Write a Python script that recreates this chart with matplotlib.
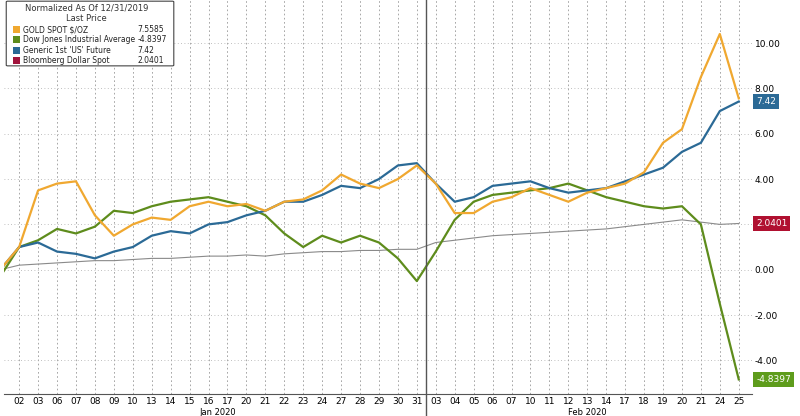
import matplotlib.pyplot as plt
import numpy as np
from matplotlib.patches import FancyBboxPatch, Rectangle

# === DATA (normalized as of 12/31/2019) ===
days = ['02', '03', '06', '07', '08', '09', '10', '13', '14', '15', '16', '17', '20', '21', '22',
        '23', '24', '27', '28', '29', '30', '31',
        '03', '04', '05', '06', '07', '10', '11', '12', '13', '14', '17', '18', '19', '20', '21', '24', '25']
gold = [0.0, 1.0, 3.5, 3.8, 3.9, 2.4, 1.5, 2.0, 2.3, 2.2, 2.8, 3.0, 2.8, 2.9, 2.6, 3.0, 3.1, 3.5, 4.2,
        3.8, 3.6, 4.0, 4.6, 3.8, 2.5, 2.5, 3.0, 3.2, 3.6, 3.3, 3.0, 3.4, 3.6, 3.8, 4.3, 5.6, 6.2, 8.5, 10.4, 7.5585]
dow = [-0.3, 1.0, 1.3, 1.8, 1.6, 1.9, 2.6, 2.5, 2.8, 3.0, 3.1, 3.2, 3.0, 2.8, 2.4, 1.6, 1.0, 1.5, 1.2,
       1.5, 1.2, 0.5, -0.5, 0.8, 2.2, 3.0, 3.3, 3.4, 3.5, 3.6, 3.8, 3.5, 3.2, 3.0, 2.8, 2.7, 2.8, 2.0, -1.5, -4.8397]
us_fut = [0.0, 1.0, 1.2, 0.8, 0.7, 0.5, 0.8, 1.0, 1.5, 1.7, 1.6, 2.0, 2.1, 2.4, 2.6, 3.0, 3.0, 3.3, 3.7,
          3.6, 4.0, 4.6, 4.7, 3.8, 3.0, 3.2, 3.7, 3.8, 3.9, 3.6, 3.4, 3.5, 3.6, 3.9, 4.2, 4.5, 5.2, 5.6, 7.0, 7.42]
dollar = [0.0, 0.2, 0.25, 0.3, 0.35, 0.4, 0.4, 0.45, 0.5, 0.5, 0.55, 0.6, 0.6, 0.65, 0.6, 0.7, 0.75, 0.8, 0.8,
          0.85, 0.85, 0.9, 0.9, 1.2, 1.3, 1.4, 1.5, 1.55, 1.6, 1.65, 1.7, 1.75, 1.8, 1.9, 2.0, 2.1, 2.2, 2.1, 2.0, 2.0401]
yticks = [-4, -2, 0, 4, 6, 8, 10]

x = np.arange(-1, len(days))

fig = plt.figure(figsize=(8, 4.16), dpi=100)
ax = fig.add_axes([0.005, 0.052, 0.935, 0.948])

c_gold, c_dow, c_us, c_usd = '#f0a830', '#5e8c1c', '#2b6a96', '#8a8a8a'
ax.plot(x, dollar, color=c_usd, lw=0.8)
ax.plot(x, dow, color=c_dow, lw=1.6)
ax.plot(x, us_fut, color=c_us, lw=1.6)
ax.plot(x, gold, color=c_gold, lw=1.6)

ax.set_xlim(-0.8, 38.7)
ax.set_ylim(-5.5, 11.9)
ax.yaxis.tick_right()
ax.set_yticks(yticks)
ax.set_yticklabels([f'{v:.2f}' for v in yticks], fontsize=6.5)
ax.set_xticks(range(len(days)))
ax.set_xticklabels(days, fontsize=6.5)
ax.tick_params(length=0, pad=2)
ax.grid(True, axis='x', ls=(0, (2, 3)), color='#999999', lw=0.6)
ax.grid(True, axis='y', ls=(0, (1, 3)), color='#aaaaaa', lw=0.6)
ax.axhline(2, ls=(0, (1, 3)), color='#aaaaaa', lw=0.6, zorder=0)
for s in ['top', 'right', 'left']:
    ax.spines[s].set_visible(False)
ax.spines['bottom'].set_color('#555555')
ax.axvline(21.5, color='#555555', lw=1.0, ymin=-0.055, clip_on=False)
ax.text(10.5, -0.035, 'Jan 2020', transform=ax.get_xaxis_transform(), ha='center', va='top', fontsize=6)
ax.text(30, -0.035, 'Feb 2020', transform=ax.get_xaxis_transform(), ha='center', va='top', fontsize=6)

# right-side value tags
for val, col, txt in [(7.74, c_gold, ''), (7.42, c_us, '7.42'), (2.0401, '#b01030', '2.0401'), (-4.8397, '#5e9c1c', '-4.8397')]:
    ax.annotate(txt, xy=(1.0, val), xycoords=('axes fraction', 'data'), xytext=(3, 0), textcoords='offset points',
                va='center', ha='left', fontsize=6.5, color='white',
                bbox=dict(boxstyle='square,pad=0.3', fc=col, ec='none'))

# legend box
ax.text(0.11, 0.99, 'Normalized As Of 12/31/2019\nLast Price', transform=ax.transAxes, ha='center',
        va='top', fontsize=6, color='#333333', zorder=6)
legend_items = [('GOLD SPOT $/OZ', '7.5585', c_gold), ('Dow Jones Industrial Average', '-4.8397', c_dow),
                ('Generic 1st \'US\' Future', '7.42', c_us), ('Bloomberg Dollar Spot', '2.0401', '#a0143c')]
ax.add_patch(FancyBboxPatch((0.005, 0.835), 0.22, 0.16, transform=ax.transAxes, boxstyle='round,pad=0.002',
                            fc='white', ec='#444444', lw=0.8, zorder=5))
for i, (name, val, col) in enumerate(legend_items):
    yy = 0.925 - i * 0.026
    ax.add_patch(Rectangle((0.012, yy - 0.009), 0.01, 0.018, transform=ax.transAxes, fc=col, ec='none', zorder=6))
    ax.text(0.026, yy, name, transform=ax.transAxes, va='center', fontsize=5.5, color='#222222', zorder=6)
    ax.text(0.178, yy, val, transform=ax.transAxes, va='center', fontsize=5.5, color='#222222', zorder=6)

fig.savefig('out.png', dpi=100)
